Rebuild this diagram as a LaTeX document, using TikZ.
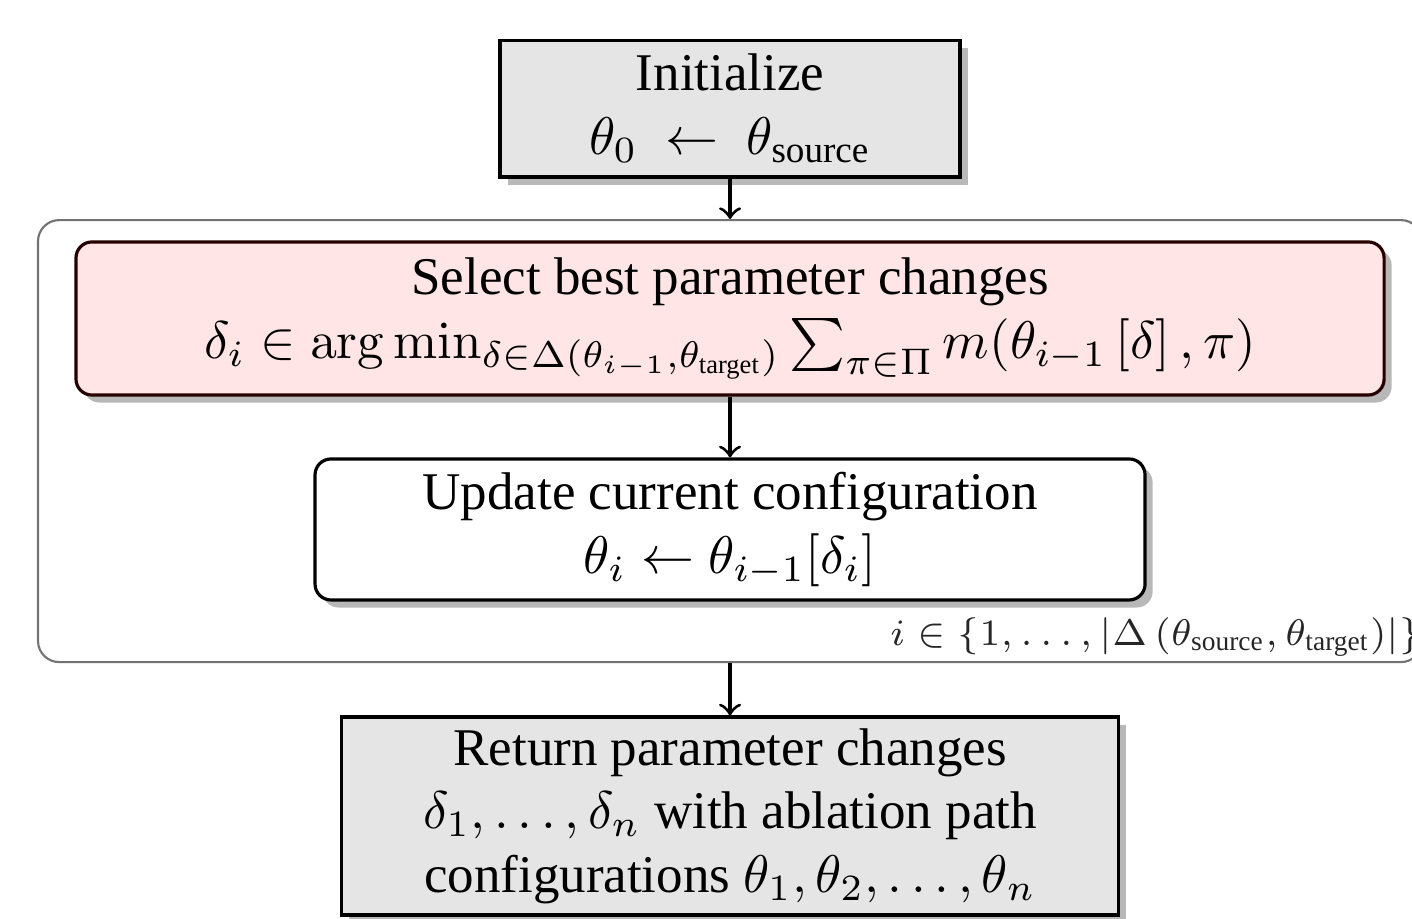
\documentclass[tikz,border=0pt]{standalone}
\usepackage{amsmath,amssymb}
\usepackage[no-math]{fontspec}
\setmainfont{Liberation Serif}
\usetikzlibrary{positioning,shadows}

\tikzset{
  stepbox/.style={draw, semithick, align=center, inner sep=2pt,
    drop shadow={shadow xshift=0.05cm, shadow yshift=-0.05cm, fill=black!28, opacity=1}},
  graybox/.style={stepbox, fill=black!10},
  pinkbox/.style={stepbox, rounded corners=3pt, fill=red!10, draw=red!15!black},
  whitebox/.style={stepbox, rounded corners=3pt, fill=white},
  loopframe/.style={draw=black!55, thin, rounded corners=4pt},
  flow/.style={->, semithick},
}

\begin{document}
\begin{tikzpicture}
  \useasboundingbox (0,0) rectangle (9.363,-6.088);
  \node[loopframe, minimum width=9.178cm, minimum height=2.931cm] (loop) at (4.841,-2.925) {};
  \node[graybox, minimum width=3.05cm, minimum height=0.908cm] (init) at (4.841,-0.72)
    {Initialize\\ $\theta_0\ \leftarrow\ \theta_{\text{source}}$};
  \node[pinkbox, minimum width=8.674cm, minimum height=1.015cm] (select) at (4.841,-2.112)
    {Select best parameter changes\\
     $\delta_i \in \arg\min_{\delta\in\Delta(\theta_{i-1},\theta_{\text{target}})} \sum_{\pi\in\Pi} m(\theta_{i-1}\left[\delta\right],\pi)$};
  \node[whitebox, minimum width=5.504cm, minimum height=0.935cm] (update) at (4.841,-3.511)
    {Update current configuration\\ $\theta_i \leftarrow \theta_{i-1}[\delta_i]$};
  \node[graybox, minimum width=5.153cm, minimum height=1.313cm] (ret) at (4.841,-5.411)
    {Return parameter changes\\
     $\delta_1,\dots,\delta_n$ with ablation path\\
     configurations $\theta_1,\theta_2,\dots,\theta_n$};
  \node[anchor=south east, inner sep=0.5pt, font=\fontsize{7.4}{9}\selectfont, text=black!85] (range)
    at ([xshift=0.01cm, yshift=0.02cm]loop.south east)
    {$i \in \{1,\dots,\left|\Delta\left(\theta_{\text{source}},\theta_{\text{target}}\right)\right|\}$};

  \draw[flow] (init) -- (loop);
  \draw[flow] (select) -- (update);
  \draw[flow] (loop) -- (ret);
\end{tikzpicture}
\end{document}
